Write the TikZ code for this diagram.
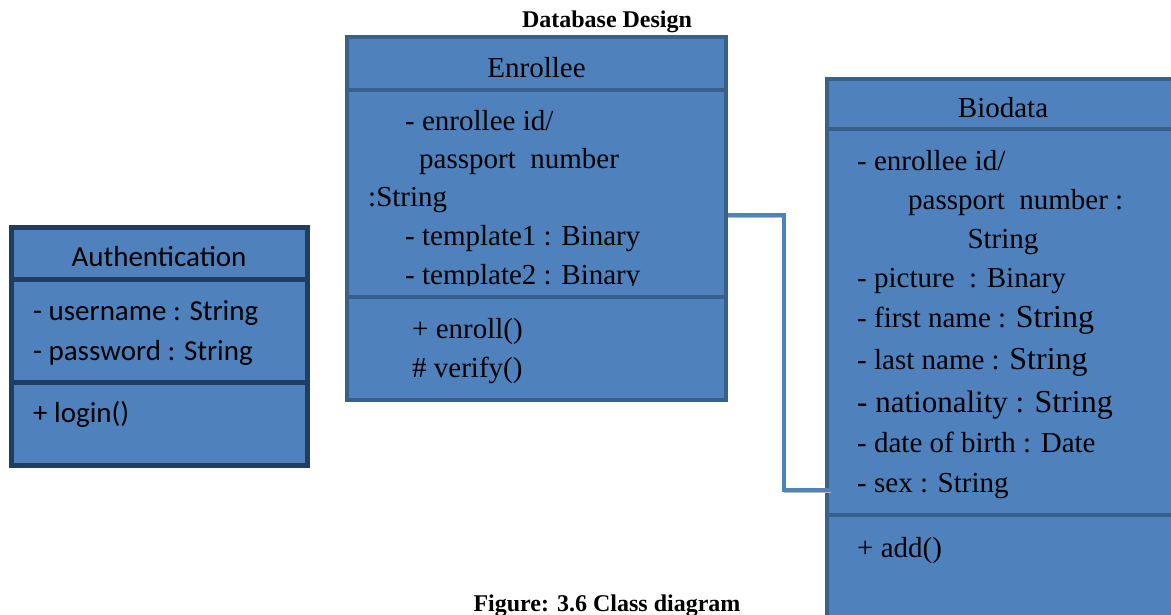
\documentclass[tikz,border=0pt]{standalone}
\usepackage{fontspec}
\setmainfont{Liberation Serif}
\newfontfamily\calibrifont{Carlito}
\definecolor{umlfill}{HTML}{4F81BD}
\definecolor{umlline}{HTML}{3A5F8B}
\definecolor{authline}{HTML}{203D62}
\definecolor{linkcol}{HTML}{4F81BD}
\begin{document}
\begin{tikzpicture}[x=1pt, y=-1pt,
    part/.style={draw=umlline, fill=umlfill, line width=4.5pt, inner sep=0pt, text height=27pt, text depth=0pt, font=\fontsize{29}{34}\selectfont},
    authpart/.style={part, draw=authline, line width=5pt, font=\calibrifont\fontsize{29}{34}\selectfont},
    member/.style={anchor=base west, inner sep=0pt, font=\fontsize{29}{34}\selectfont},
    authmember/.style={member, font=\calibrifont\fontsize{29}{34}\selectfont},
    heading/.style={anchor=base, inner sep=0pt, font=\bfseries\fontsize{24}{28}\selectfont},
    link/.style={draw=linkcol, line width=4pt, preaction={draw=gray!55, transform canvas={yshift=-2.5pt}}}]
    \useasboundingbox (0,0) rectangle (1171,614);
    \clip (0,0) rectangle (1171,614);
    \node[heading] (title) at (607,27) {Database Design};
    \node[heading] (caption) at (607,611) {Figure: 3.6 Class diagram};
    % Authentication
    \node[authpart, minimum width=296pt, minimum height=52pt] (authHead) at (159,253) {Authentication};
    \node[authpart, minimum width=296pt, minimum height=103pt] (authAttr) at (159,330.5) {};
    \node[authpart, minimum width=296pt, minimum height=83pt] (authOps) at (159,423.5) {};
    \node[authmember] (auth1) at (33,320) {- username : String};
    \node[authmember] (auth2) at (33,360) {- password : String};
    \node[authmember] (auth3) at (33,422) {+ login()};
    % Enrollee
    \node[part, minimum width=379pt, minimum height=53pt] (enrHead) at (536.5,63.5) {Enrollee};
    \node[part, minimum width=379pt, minimum height=207pt] (enrAttr) at (536.5,193.5) {};
    \node[part, minimum width=379pt, minimum height=103pt] (enrOps) at (536.5,348.5) {};
    \begin{scope}
        \clip (enrAttr.north west) rectangle ([yshift=14pt]enrAttr.south east);
        \node[member] (enr1) at (405,130) {- enrollee id/};
        \node[member] (enr2) at (419,168) {passport~ number};
        \node[member] (enr3) at (368,206) {:String};
        \node[member] (enr4) at (405,245) {- template1 : Binary};
        \node[member] (enr5) at (405,284) {- template2 : Binary};
    \end{scope}
    \node[member] (enr6) at (412,338) {+ enroll()};
    \node[member] (enr7) at (412,377) {\# verify()};
    % Biodata
    \node[part, minimum width=352pt, minimum height=50pt] (bioHead) at (1003,104) {Biodata};
    \node[part, minimum width=352pt, minimum height=386pt] (bioAttr) at (1003,322) {};
    \node[part, minimum width=352pt, minimum height=145pt] (bioOps) at (1003,587.5) {};
    \node[member] (bio1) at (857,170) {- enrollee id/};
    \node[member] (bio2) at (908,209) {passport~ number :};
    \node[member, anchor=base] (bio3) at (1003,248) {String};
    \node[member] (bio4) at (857,287) {- picture~ : Binary};
    \node[member] (bio5) at (857,327) {- first name : {\fontsize{32}{34}\selectfont String}};
    \node[member] (bio6) at (857,369) {- last name : {\fontsize{32}{34}\selectfont String}};
    \node[member, font=\fontsize{31}{34}\selectfont] (bio7) at (857,412) {- nationality : {\fontsize{32}{34}\selectfont String}};
    \node[member] (bio8) at (857,452) {- date of birth : Date};
    \node[member] (bio9) at (857,492) {- sex : String};
    \node[member] (bio10) at (857,557) {+ add()};
    % association
    \coordinate (jA) at (784,215);
    \coordinate (jB) at (784,490);
    \draw[link] (enrAttr.east |- jA) -- (jA) -- (jB) -- ([xshift=6pt]bioAttr.west |- jB);
\end{tikzpicture}
\end{document}
